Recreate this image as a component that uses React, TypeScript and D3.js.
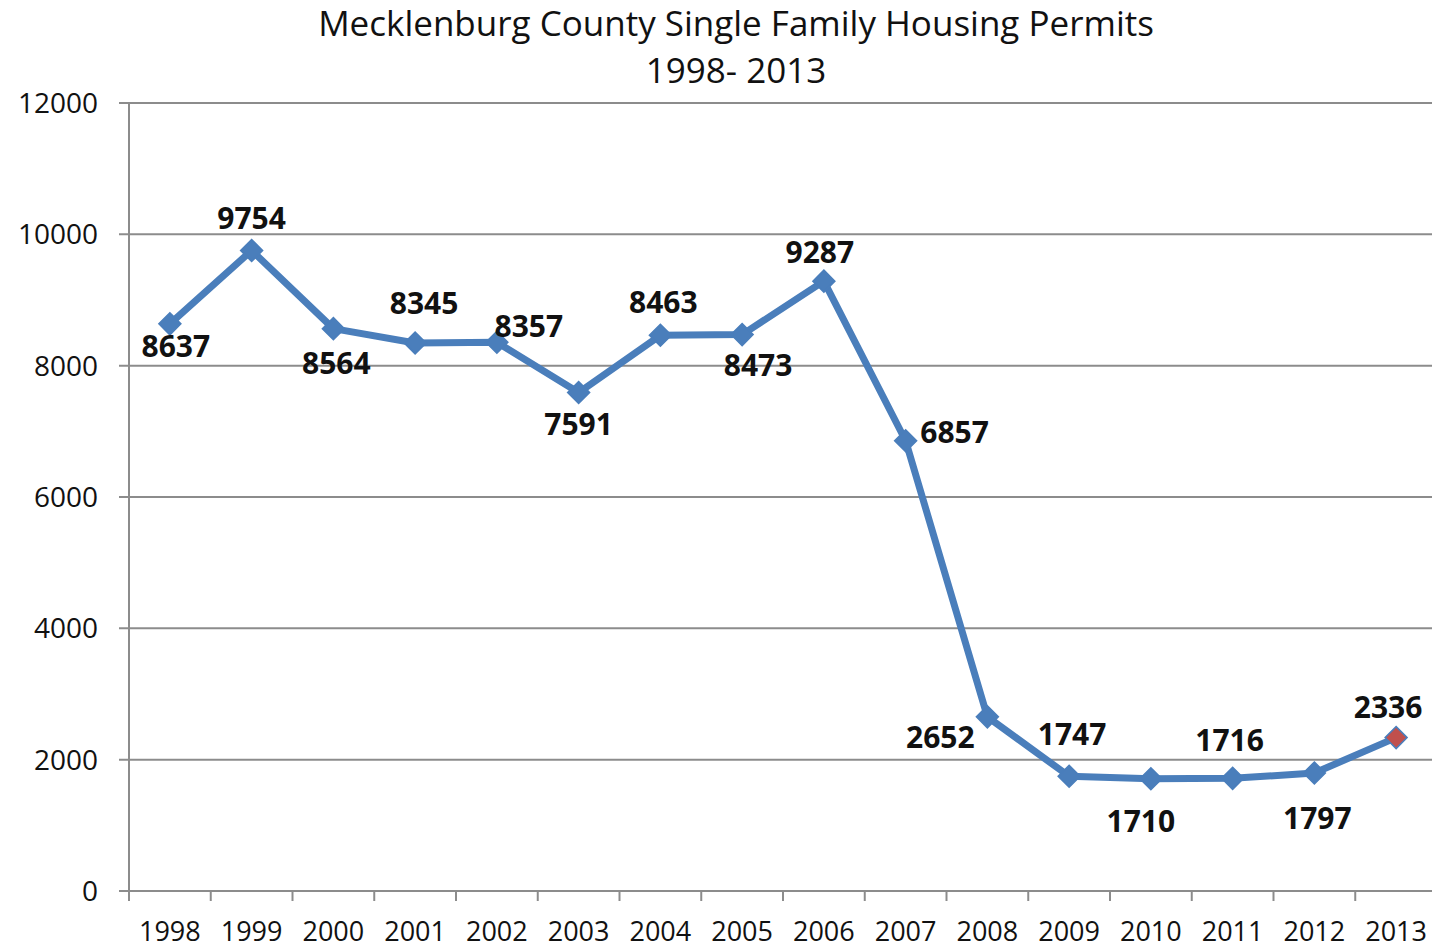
import React from "react";
import * as d3 from "d3";

const years = ["1998", "1999", "2000", "2001", "2002", "2003", "2004", "2005", "2006", "2007", "2008", "2009", "2010", "2011", "2012", "2013"];
const permits = [8637, 9754, 8564, 8345, 8357, 7591, 8463, 8473, 9287, 6857, 2652, 1747, 1710, 1716, 1797, 2336];
const yTicks = [0, 2000, 4000, 6000, 8000, 10000, 12000];
const titleLines = ["Mecklenburg County Single Family Housing Permits", "1998- 2013"];

// label placement (dx, dy of label centre from its point), layout only
const labelOffsets: [number, number][] = [
  [6, 22], [0, -32], [3, 35], [9, -40], [32, -16], [0, 32], [3, -33], [16, 31],
  [-4, -29], [49, -9], [-47, 20], [3, -42], [-10, 42], [-3, -38], [3, 45], [-8, -30],
];

const W = 1432, H = 948;
const left = 129, top = 103, bottom = 891, right = 129 + 16 * 81.75;
const FONT = "'Open Sans', sans-serif";

export default function App() {
  const x = d3.scaleBand<string>().domain(years).range([left, right]).padding(0);
  const y = d3.scaleLinear().domain([0, 12000]).range([bottom, top]);
  const cx = (i: number) => (x(years[i]) as number) + x.bandwidth() / 2;
  const line = d3.line<number>().x((_, i) => cx(i)).y((d) => y(d));
  const diamond = (px: number, py: number, r: number) =>
    `M${px},${py - r}L${px + r},${py}L${px},${py + r}L${px - r},${py}Z`;
  const grey = "#8c8c8c";

  return (
    <svg width={W} height={H} style={{ position: "absolute", left: 0, top: 0, background: "#fff" }} fontFamily={FONT}>
      <rect width={W} height={H} fill="#fff" />
      {titleLines.map((t, i) => (
        <text key={t} x={736} y={36 + i * 47} textAnchor="middle" fontSize={35} fill="#111">{t}</text>
      ))}
      {yTicks.map((t) => (
        <g key={t}>
          <line x1={119} x2={W} y1={y(t)} y2={y(t)} stroke={grey} strokeWidth={2} />
          <text x={98} y={y(t)} dy="0.36em" textAnchor="end" fontSize={28} fill="#111">{t}</text>
        </g>
      ))}
      <line x1={left} x2={left} y1={top} y2={bottom + 10} stroke={grey} strokeWidth={2} />
      {years.map((yr, i) => (
        <g key={yr}>
          {i > 0 && <line x1={x(yr)} x2={x(yr)} y1={bottom} y2={bottom + 10} stroke={grey} strokeWidth={2} />}
          <text x={cx(i)} y={931} dy="0.36em" textAnchor="middle" fontSize={27} fill="#111">{yr}</text>
        </g>
      ))}
      <line x1={right} x2={right} y1={bottom} y2={bottom + 10} stroke={grey} strokeWidth={2} />
      <path d={line(permits) || ""} fill="none" stroke="#4A7EBB" strokeWidth={7} strokeLinejoin="round" />
      {permits.map((v, i) => (
        <path key={i} d={diamond(cx(i), y(v), 11)} fill={i === permits.length - 1 ? "#C0504D" : "#4A7EBB"} stroke="#4A7EBB" strokeWidth={1.5} />
      ))}
      {permits.map((v, i) => (
        <text key={"l" + i} x={cx(i) + labelOffsets[i][0]} y={y(v) + labelOffsets[i][1]} dy="0.36em" textAnchor="middle" fontSize={30} fontWeight="bold" fill="#111">{v}</text>
      ))}
    </svg>
  );
}
